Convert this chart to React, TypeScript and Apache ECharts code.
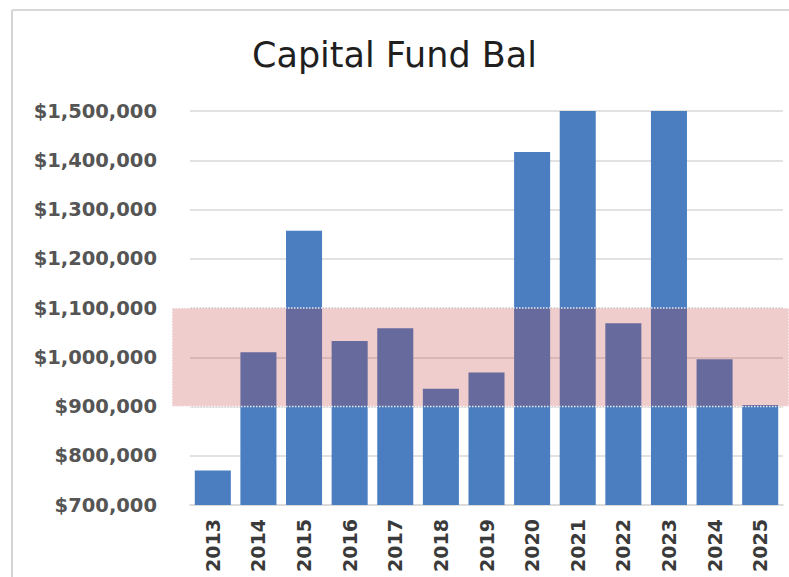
import React, { useEffect, useRef } from "react";
import * as echarts from "echarts";

const years = ["2013", "2014", "2015", "2016", "2017", "2018", "2019", "2020", "2021", "2022", "2023", "2024", "2025"];
const balances = [770000, 1010000, 1257000, 1033000, 1059000, 936000, 969000, 1417000, 1500000, 1069000, 1500000, 996000, 903000];
const bandLow = 900000;
const bandHigh = 1100000;
const yMin = 700000;
const yMax = 1500000;
const yStep = 100000;

export default function App() {
  const ref = useRef<HTMLDivElement>(null);
  useEffect(() => {
    if (!ref.current) return;
    const chart = echarts.init(ref.current, null, { renderer: "svg" });
    chart.setOption({
      animation: false,
      backgroundColor: "#ffffff",
      title: {
        text: "Capital Fund Bal",
        left: "center",
        top: 32,
        textStyle: { fontFamily: "DejaVu Sans", fontSize: 35, fontWeight: "normal", color: "#1f1f1f" },
      },
      graphic: [
        { type: "line", shape: { x1: 12, y1: 10, x2: 12, y2: 577 }, style: { stroke: "#d4d4d4", lineWidth: 2 } },
        { type: "line", shape: { x1: 12, y1: 10, x2: 789, y2: 10 }, style: { stroke: "#d9d9d9", lineWidth: 2 } },
      ],
      grid: { left: 190, right: 6, top: 111, bottom: 72, containLabel: false },
      xAxis: {
        type: "category",
        data: years,
        axisLine: { onZero: false, lineStyle: { color: "#d9d9d9", width: 1.5 } },
        axisTick: { show: false },
        axisLabel: { rotate: 90, margin: 14, interval: 0, fontFamily: "DejaVu Sans", fontSize: 19, fontWeight: "bold", color: "#3a3a3a" },
      },
      yAxis: {
        type: "value",
        min: yMin,
        max: yMax,
        interval: yStep,
        axisLine: { show: false },
        axisTick: { show: false },
        splitLine: { lineStyle: { color: "#d9d9d9", width: 1.5 } },
        axisLabel: {
          margin: 33,
          fontFamily: "DejaVu Sans",
          fontSize: 19.5,
          fontWeight: "bold",
          color: "#555555",
          formatter: (v: number) => "$" + v.toLocaleString("en-US"),
        },
      },
      series: [
        {
          type: "bar",
          data: balances,
          barCategoryGap: "21%",
          itemStyle: { color: "#4a7ec0" },
          markArea: {
            silent: true,
            z: 5,
            itemStyle: {
              color: "rgba(192,45,45,0.24)",
              borderColor: "rgba(255,255,255,0.85)",
              borderWidth: 1.5,
              borderType: "dotted",
            },
            data: [[{ x: 172, yAxis: bandLow }, { x: 789, yAxis: bandHigh }]],
          },
        },
      ],
    });
    return () => chart.dispose();
  }, []);
  return <div ref={ref} style={{ position: "absolute", left: 0, top: 0, width: 789, height: 577 }} />;
}
